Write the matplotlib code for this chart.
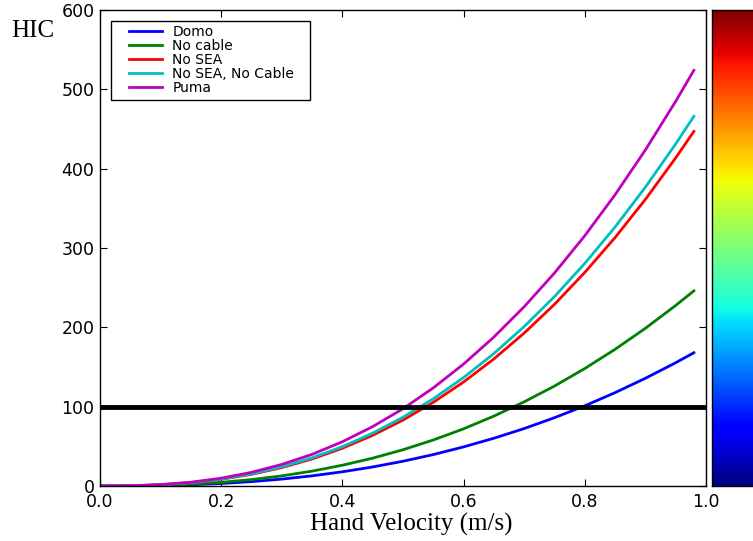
import numpy as np
import matplotlib
matplotlib.use("Agg")
import matplotlib.pyplot as plt
from matplotlib.patches import Rectangle

# Hand velocity (m/s)
velocity = [0.0, 0.05, 0.1, 0.15, 0.2, 0.25, 0.3, 0.35, 0.4, 0.45, 0.5,
            0.55, 0.6, 0.65, 0.7, 0.75, 0.8, 0.85, 0.9, 0.95, 0.98]

hic_domo = [0.0, 0.1, 0.56, 1.54, 3.16, 5.52, 8.71, 12.8, 17.9, 24.0, 31.2,
            39.6, 49.3, 60.2, 72.4, 86.1, 101.1, 117.7, 135.8, 155.4, 168.0]
hic_no_cable = [0.0, 0.14, 0.82, 2.25, 4.63, 8.08, 12.75, 18.75, 26.2, 35.1, 45.7,
                58.0, 72.1, 88.1, 106.1, 126.0, 148.1, 172.3, 198.8, 227.6, 246.0]
hic_no_sea = [0.0, 0.26, 1.49, 4.10, 8.41, 14.7, 23.2, 34.1, 47.6, 63.9, 83.1,
              105.5, 131.1, 160.2, 192.8, 229.0, 269.2, 313.2, 361.3, 413.6, 447.0]
hic_no_sea_no_cable = [0.0, 0.27, 1.55, 4.27, 8.77, 15.3, 24.2, 35.5, 49.6, 66.6, 86.7,
                       110.0, 136.7, 167.0, 201.0, 238.8, 280.6, 326.5, 376.7, 431.2, 466.0]
hic_puma = [0.0, 0.31, 1.74, 4.80, 9.86, 17.2, 27.2, 39.9, 55.8, 74.9, 97.4,
            123.7, 153.7, 187.8, 226.0, 268.5, 315.5, 367.2, 423.6, 484.9, 524.0]

series_labels = ["Domo", "No cable", "No SEA", "No SEA, No Cable", "Puma"]
series_colors = ["#0000ff", "#008000", "#ff0000", "#00bfbf", "#bf00bf"]
threshold = 100

xticks = [0.0, 0.2, 0.4, 0.6, 0.8, 1.0]
yticks = [0, 100, 200, 300, 400, 500, 600]

W, H = 753, 541
AX_L, AX_B, AX_W, AX_H = 100, 55, 606, 476
fig = plt.figure(figsize=(W / 100, H / 100), dpi=100)
ax = fig.add_axes([AX_L / W, AX_B / H, AX_W / W, AX_H / H])

series = [hic_domo, hic_no_cable, hic_no_sea, hic_no_sea_no_cable, hic_puma]
for vals, lab, col in zip(series, series_labels, series_colors):
    ax.plot(velocity, vals, color=col, lw=2.0, label=lab)

ax.axhline(threshold, color="black", lw=3.5)

ax.set_xlim(0, 1.0)
ax.set_ylim(0, 600)
ax.set_xticks(xticks)
ax.set_xticklabels([f"{t:.1f}" for t in xticks])
ax.set_yticks(yticks)
ax.tick_params(direction="in", top=True, right=True, length=5, labelsize=12.5)
ax.tick_params(axis="x", pad=5)
ax.tick_params(axis="y", pad=4)
for s in ax.spines.values():
    s.set_linewidth(1.0)

def ax_fx(px):
    return (px - AX_L) / AX_W
def ax_fy(py):
    return (H - AX_B - py) / AX_H

ax.set_xlabel("Hand Velocity (m/s)", family="Liberation Serif", fontsize=18)
ax.xaxis.set_label_coords(ax_fx(411), ax_fy(513), transform=ax.transAxes)
ax.xaxis.label.set_va("top")
fig.text(11 / W, 1 - 31 / H, "HIC", family="Liberation Serif", fontsize=18,
         ha="left", va="center")

# legend: entries without frame, frame drawn separately to match wide padding
leg = ax.legend(loc="upper left", bbox_to_anchor=(ax_fx(129), ax_fy(25)),
                borderaxespad=0, borderpad=0, fontsize=10, labelspacing=0.0,
                handlelength=2.4, handletextpad=0.72, frameon=False)
frame = Rectangle((ax_fx(111), ax_fy(100)), ax_fx(310) - ax_fx(111),
                  ax_fy(21) - ax_fy(100), transform=ax.transAxes,
                  facecolor="white", edgecolor="black", lw=1.0, zorder=4)
ax.add_patch(frame)
leg.set_zorder(5)

# colour bar (jet), partially cut off on the right
cax = fig.add_axes([712 / W, AX_B / H, 60 / W, AX_H / H])
grad = np.linspace(0, 1, 256).reshape(-1, 1)
cax.imshow(grad, aspect="auto", cmap="jet", origin="lower", extent=[0, 1, 0, 1])
cax.set_xticks([])
cax.set_yticks([])
for s in cax.spines.values():
    s.set_linewidth(1.0)

fig.savefig("out.png", dpi=100)
